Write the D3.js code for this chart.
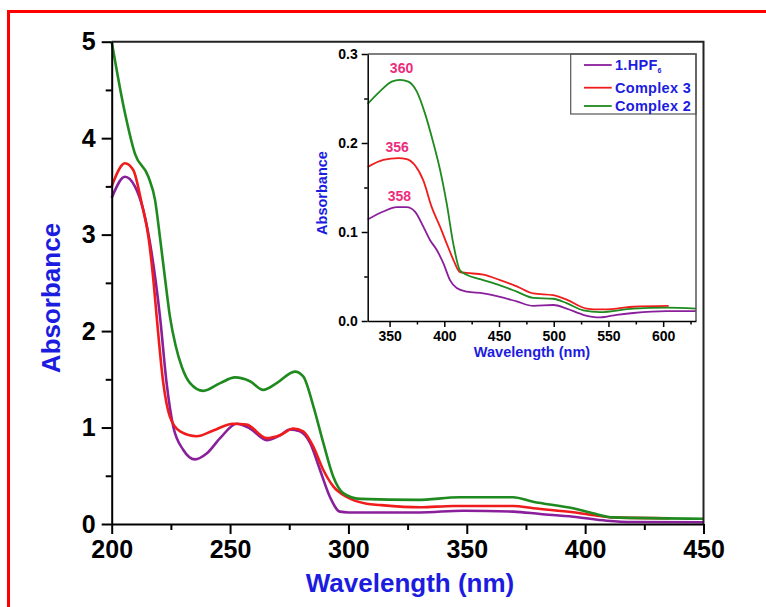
<!DOCTYPE html>
<html><head><meta charset="utf-8">
<script src="https://cdn.jsdelivr.net/npm/d3@7"></script>
<style>
body{margin:0;background:#fff}
svg{display:block}
text{font-family:"Liberation Sans",Arial,sans-serif;font-weight:bold}
</style>
</head><body>
<svg id="c" width="766" height="607"></svg>
<script>
// ---------- data ----------
const seriesNames = ["1.HPF6", "Complex 3", "Complex 2"];
const seriesColors = ["#8a1f9c", "#f01c1c", "#1f8a1f"];

// main spectrum (200-450 nm)
const hpfWl  = [200,205.6,209.8,213.3,216.2,220.4,223.2,226,230.2,235.2,240.1,245.8,252.8,258.4,265.5,271.1,275.3,279.5,283.8,288,292.2,296.4,300,330,348.5,369.7,381,395,409.1,420,450];
const hpfAbs = [3.38,3.60,3.50,3.26,2.91,2.15,1.46,1.01,0.77,0.67,0.73,0.89,1.04,0.99,0.87,0.92,0.98,0.96,0.84,0.56,0.28,0.128,0.12,0.12,0.138,0.128,0.104,0.076,0.034,0.02,0.018];

const c3Wl  = [200,205.6,209.1,212.7,215.5,217.6,219,221.8,224.6,228.9,235.9,242.9,251.4,257,265.5,271.1,276.7,280.9,285.2,289.4,293.6,299.3,307.7,313.3,330.2,344.3,369.7,378.1,395,406.3,411.9,436];
const c3Abs = [3.50,3.74,3.67,3.32,2.98,2.53,2.15,1.46,1.11,0.96,0.91,0.97,1.04,1.03,0.89,0.92,0.99,0.96,0.80,0.56,0.39,0.28,0.21,0.197,0.173,0.187,0.187,0.163,0.121,0.083,0.069,0.06];

const c2Wl  = [200,205.6,209.8,215.5,218.3,220.5,222.5,224.6,227,229.6,233.1,238.7,245.8,252.1,258.4,264,269.7,277.4,280.9,285.2,289.4,293.6,297.8,304.9,329,347.1,369.5,378,394.9,403.3,411.8,450];
const c2Abs = [5.0,4.26,3.84,3.60,3.36,2.95,2.55,2.15,1.85,1.63,1.46,1.38,1.46,1.52,1.48,1.39,1.46,1.58,1.53,1.22,0.84,0.49,0.32,0.26,0.25,0.277,0.277,0.231,0.163,0.111,0.069,0.055];

// inset spectrum (330-630 nm)
const inHpfWl  = [330,344.3,356.5,365.6,373.2,380.8,386.9,393,399.1,405.2,411.3,420.5,435.6,450.9,466.2,481.3,499.6,511.8,526.9,542.3,557.5,572.7,603.2,630];
const inHpfAbs = [0.114,0.123,0.128,0.128,0.123,0.106,0.091,0.080,0.065,0.046,0.037,0.033,0.031,0.027,0.022,0.017,0.018,0.014,0.007,0.004,0.007,0.009,0.011,0.011];

const inC3Wl  = [330,344.3,358,365.6,373.2,380.8,388.5,396.1,402.2,408.2,414.3,420.5,435.6,450.9,466.2,481.3,499.6,511.8,530,542.3,557.5,572.7,605];
const inC3Abs = [0.173,0.181,0.183,0.182,0.175,0.158,0.128,0.106,0.087,0.069,0.055,0.054,0.052,0.046,0.039,0.031,0.029,0.024,0.014,0.013,0.014,0.016,0.017];

const inC2Wl  = [330,341.2,351.9,359.5,367.1,374.8,382.4,390,396.1,402.2,408.2,414.3,420.5,435.6,450.9,466.2,481.3,499.6,511.8,527,542.3,572.7,603.2,630];
const inC2Abs = [0.244,0.258,0.269,0.271,0.269,0.258,0.233,0.200,0.170,0.132,0.087,0.057,0.052,0.046,0.040,0.033,0.026,0.025,0.020,0.012,0.010,0.014,0.015,0.014];

// peak annotations in inset
const peakLabels = ["360", "356", "358"];
const peakWl     = [360, 356, 358];
const peakAbs    = [0.271, 0.183, 0.128];

// ticks
const mainXTicks = [200, 250, 300, 350, 400, 450];
const mainYTicks = [0, 1, 2, 3, 4, 5];
const insetXTicks = [350, 400, 450, 500, 550, 600];
const insetYTicks = [0, 0.1, 0.2, 0.3];

// ---------- drawing ----------
const svg = d3.select("#c");
const BLUE = "#1c1ce0";
const PINK = "#ec2d7b";

// red frame
svg.append("rect").attr("x", 8.5).attr("y", 11.5).attr("width", 800).attr("height", 700)
  .attr("fill", "none").attr("stroke", "#ff0000").attr("stroke-width", 3);

// main scales
const x = d3.scaleLinear().domain([200, 450]).range([111.7, 703.5]);
const y = d3.scaleLinear().domain([0, 5]).range([524, 41.7]);

const mainSeries = [
  {wl: hpfWl, ab: hpfAbs},
  {wl: c3Wl, ab: c3Abs},
  {wl: c2Wl, ab: c2Abs}
];

const lineMain = d3.line().x(d => x(d[0])).y(d => y(d[1])).curve(d3.curveMonotoneX);
const gLines = svg.append("g");
mainSeries.forEach((s, i) => {
  gLines.append("path").datum(s.wl.map((w, k) => [w, s.ab[k]]))
    .attr("d", lineMain).attr("fill", "none")
    .attr("stroke", seriesColors[i]).attr("stroke-width", 2.6).attr("stroke-linejoin", "round");
});

// frame top/right
svg.append("path").attr("d", `M${x(200)},${y(5)}H${x(450)}V${y(0)}`)
  .attr("fill", "none").attr("stroke", "#222").attr("stroke-width", 2);

// main axes
function styleAxis(g, lw) {
  g.select(".domain").attr("stroke", "#000").attr("stroke-width", lw);
  g.selectAll(".tick line").attr("stroke", "#000").attr("stroke-width", lw);
}
const minorX = d3.range(225, 450, 50);
const minorY = d3.range(0.5, 5, 1);

const gx = svg.append("g").attr("transform", `translate(0,${y(0)})`)
  .call(d3.axisBottom(x).tickValues(mainXTicks).tickSize(10).tickPadding(6).tickSizeOuter(0).tickFormat(d3.format("d")));
gx.selectAll("text").attr("font-size", 25).attr("fill", "#000");
styleAxis(gx, 2);
svg.append("g").attr("transform", `translate(0,${y(0)})`)
  .call(d3.axisBottom(x).tickValues(minorX).tickSize(6).tickFormat(""))
  .call(g => { g.select(".domain").remove(); g.selectAll("line").attr("stroke", "#000").attr("stroke-width", 2); });

const gy = svg.append("g").attr("transform", `translate(${x(200)},0)`)
  .call(d3.axisLeft(y).tickValues(mainYTicks).tickSize(10).tickPadding(6).tickSizeOuter(0).tickFormat(d3.format("d")));
gy.selectAll("text").attr("font-size", 25).attr("fill", "#000");
styleAxis(gy, 2);
svg.append("g").attr("transform", `translate(${x(200)},0)`)
  .call(d3.axisLeft(y).tickValues(minorY).tickSize(6).tickFormat(""))
  .call(g => { g.select(".domain").remove(); g.selectAll("line").attr("stroke", "#000").attr("stroke-width", 2); });

// main axis titles
svg.append("text").attr("x", 410).attr("y", 592).attr("text-anchor", "middle")
  .attr("font-size", 26).attr("fill", BLUE).text("Wavelength (nm)");
svg.append("text").attr("transform", "translate(60,298) rotate(-90)").attr("text-anchor", "middle")
  .attr("font-size", 26).attr("fill", BLUE).text("Absorbance");

// ---------- inset ----------
const xi = d3.scaleLinear().domain([330, 630]).range([367.7, 696]);
const yi = d3.scaleLinear().domain([0, 0.3]).range([321, 54]);

const insetSeries = [
  {wl: inHpfWl, ab: inHpfAbs},
  {wl: inC3Wl, ab: inC3Abs},
  {wl: inC2Wl, ab: inC2Abs}
];
const lineIn = d3.line().x(d => xi(d[0])).y(d => yi(d[1])).curve(d3.curveMonotoneX);
insetSeries.forEach((s, i) => {
  svg.append("path").datum(s.wl.map((w, k) => [w, s.ab[k]]))
    .attr("d", lineIn).attr("fill", "none")
    .attr("stroke", seriesColors[i]).attr("stroke-width", 1.8);
});

// inset frame top/right
svg.append("path").attr("d", `M${xi(330)},${yi(0.3)}H${xi(630)}V${yi(0)}`)
  .attr("fill", "none").attr("stroke", "#555").attr("stroke-width", 1.5);

const gxi = svg.append("g").attr("transform", `translate(0,${yi(0)})`)
  .call(d3.axisBottom(xi).tickValues(insetXTicks).tickSize(6).tickPadding(4).tickSizeOuter(0).tickFormat(d3.format("d")));
gxi.selectAll("text").attr("font-size", 14).attr("fill", "#000");
styleAxis(gxi, 1.5);
svg.append("g").attr("transform", `translate(0,${yi(0)})`)
  .call(d3.axisBottom(xi).tickValues(d3.range(375, 630, 50)).tickSize(3.5).tickFormat(""))
  .call(g => { g.select(".domain").remove(); g.selectAll("line").attr("stroke", "#000").attr("stroke-width", 1.5); });

const gyi = svg.append("g").attr("transform", `translate(${xi(330)},0)`)
  .call(d3.axisLeft(yi).tickValues(insetYTicks).tickSize(6).tickPadding(4).tickSizeOuter(0).tickFormat(d3.format(".1f")));
gyi.selectAll("text").attr("font-size", 14).attr("fill", "#000");
styleAxis(gyi, 1.5);
svg.append("g").attr("transform", `translate(${xi(330)},0)`)
  .call(d3.axisLeft(yi).tickValues([0.05, 0.15, 0.25]).tickSize(3.5).tickFormat(""))
  .call(g => { g.select(".domain").remove(); g.selectAll("line").attr("stroke", "#000").attr("stroke-width", 1.5); });

svg.append("text").attr("x", 532).attr("y", 357).attr("text-anchor", "middle")
  .attr("font-size", 14.5).attr("fill", BLUE).text("Wavelength (nm)");
svg.append("text").attr("transform", "translate(326.5,193) rotate(-90)").attr("text-anchor", "middle")
  .attr("font-size", 14.5).attr("fill", BLUE).text("Absorbance");

// peak labels
peakLabels.forEach((t, i) => {
  svg.append("text").attr("x", xi(peakWl[i]) + 1).attr("y", yi(peakAbs[i]) - 6.5)
    .attr("text-anchor", "middle").attr("font-size", 14).attr("fill", PINK).text(t);
});

// legend
svg.append("rect").attr("x", 570.7).attr("y", yi(0.3)).attr("width", xi(630) - 570.7).attr("height", 60)
  .attr("fill", "none").attr("stroke", "#555").attr("stroke-width", 1.2);
const legY = [65, 87.7, 106];
seriesNames.forEach((n, i) => {
  svg.append("line").attr("x1", 584).attr("x2", 611.7).attr("y1", legY[i]).attr("y2", legY[i])
    .attr("stroke", seriesColors[i]).attr("stroke-width", 1.8);
  const t = svg.append("text").attr("x", 615).attr("y", legY[i] + 5.2)
    .attr("font-size", 14.5).attr("fill", BLUE).attr("letter-spacing", 0.3);
  if (n === "1.HPF6") {
    t.append("tspan").text("1.HPF");
    t.append("tspan").attr("font-size", 7).attr("dy", 3).text("6");
  } else {
    t.text(n);
  }
});
</script>
</body></html>
